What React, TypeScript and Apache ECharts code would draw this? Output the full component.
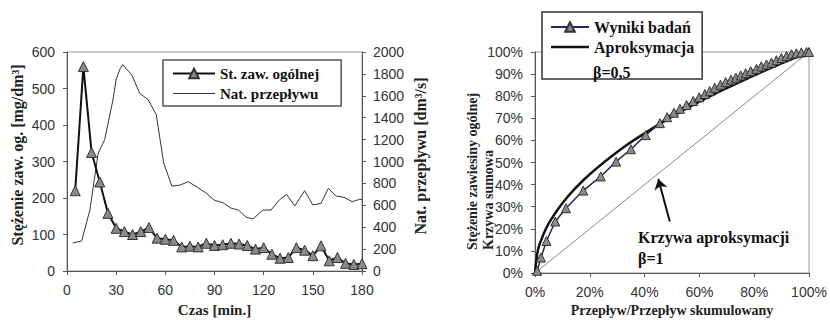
import React, { useEffect, useRef } from "react";
import * as echarts from "echarts";

// ---- Left chart data ----
const sampleTime = [5, 10, 15, 20, 25, 30, 35, 40, 45, 50, 55, 60, 65, 70, 75, 80, 85, 90, 95, 100, 105, 110, 115, 120, 125, 130, 135, 140, 145, 150, 155, 160, 165, 170, 175, 180];
const concentration = [220, 560, 325, 244, 158, 117, 108, 100, 108, 119, 90, 87, 84, 66, 68, 66, 76, 70, 72, 76, 74, 70, 60, 64, 46, 35, 37, 64, 57, 42, 69, 28, 37, 21, 18, 20];

const flowTime = [3.5, 9, 14, 19, 23, 28, 30, 32.5, 34, 39.5, 44.5, 49.5, 54.5, 59, 64, 69, 74, 79, 85, 90, 95, 100, 104.5, 109.5, 113.5, 119.5, 124.5, 129.5, 134, 139, 145, 150, 155, 159.5, 164, 169, 174, 178.5, 180];
const flowRate = [255, 275, 560, 1075, 1200, 1560, 1750, 1850, 1885, 1790, 1620, 1565, 1425, 985, 775, 785, 815, 770, 710, 645, 625, 575, 557, 490, 475, 557, 557, 648, 700, 594, 733, 603, 618, 755, 685, 673, 633, 655, 650];

// ---- Right chart data ----
const measuredFlowPct = [0.8, 2.2, 4.2, 7.4, 11.3, 17.6, 24, 29.6, 35, 40.4, 45.6, 48.2, 50.7, 52.9, 55.3, 57.7, 59.9, 62, 63.8, 65.6, 67.7, 69.6, 71.5, 73.3, 75.1, 76.9, 78.7, 80.8, 82.6, 84.5, 86.3, 88.1, 89.9, 91.8, 93.6, 95.4, 97.2, 99.1, 100];
const measuredMassPct = [1, 7, 14.5, 23.3, 29.3, 37.3, 43.7, 50.4, 56, 62.4, 67.8, 70.5, 72.5, 74.3, 76, 77.8, 79.5, 81, 82.3, 83.8, 85.2, 86.4, 87.5, 88.4, 89.4, 90.4, 91.3, 92.4, 93.5, 94.4, 95.2, 96.3, 97.3, 98.2, 99, 99.4, 99.8, 100, 100];

const approxFlowPct = [0, 1, 2, 4, 6, 10, 15, 20, 30, 40, 50, 60, 70, 80, 90, 100];
const approxMassPct = [0, 10, 14.1, 20, 24.5, 31.6, 38.7, 44.7, 54.8, 63.2, 70.7, 77.5, 83.7, 89.4, 94.9, 100];

const diagonalPct = [0, 100];

const leftXTicks = { min: 0, max: 180, interval: 30 };
const leftYTicks = { min: 0, max: 600, interval: 100 };
const rightYTicks = { min: 0, max: 2000, interval: 200 };

const SERIF = '"Liberation Serif", "DejaVu Serif", serif';
const SANS = '"Liberation Sans", Arial, sans-serif';

export default function App() {
  const ref = useRef<HTMLDivElement>(null);

  useEffect(() => {
    document.body.style.margin = "0";
    if (!ref.current) return;
    const chart = echarts.init(ref.current, undefined, { renderer: "svg" });

    const axisLabel = (margin: number, fmt?: any) => ({
      color: "#333",
      fontFamily: SANS,
      fontSize: 14,
      margin,
      formatter: fmt,
    });
    const axisLine = { show: true, lineStyle: { color: "#555", width: 1 } };
    const axisTick = { show: true, length: 4, lineStyle: { color: "#555" } };

    const triangle = {
      symbol: "triangle",
      symbolSize: 10,
      itemStyle: { color: "#8a8a8a", borderColor: "#333", borderWidth: 1 },
    };

    const thinLineIcon = "path://M0,0 L40,0 L40,1 L0,1 Z";
    const thickLineIcon = "path://M0,0 L40,0 L40,2.5 L0,2.5 Z";

    const option: any = {
      animation: false,
      backgroundColor: "#fff",
      grid: [
        { left: 67, top: 52, width: 295, height: 219, show: true, borderColor: "#999", borderWidth: 1, outerBoundsMode: "none" },
        { left: 535, top: 52, width: 274, height: 221, show: true, borderColor: "#999", borderWidth: 1, outerBoundsMode: "none" },
      ],
      xAxis: [
        {
          gridIndex: 0, type: "value", ...leftXTicks,
          axisLine, axisTick, splitLine: { show: false },
          axisLabel: axisLabel(12),
          name: "Czas [min.]", nameLocation: "middle", nameGap: 31,
          nameTextStyle: { fontFamily: SERIF, fontWeight: "bold", fontSize: 15, color: "#222" },
        },
        {
          gridIndex: 1, type: "value", min: 0, max: 100, interval: 20,
          axisLine, axisTick, splitLine: { show: false },
          axisLabel: axisLabel(12, "{value}%"),
          name: "Przepływ/Przepływ skumulowany", nameLocation: "middle", nameGap: 28,
          nameTextStyle: { fontFamily: SERIF, fontWeight: "bold", fontSize: 14, color: "#222" },
        },
      ],
      yAxis: [
        {
          gridIndex: 0, type: "value", ...leftYTicks,
          axisLine, axisTick, splitLine: { show: false },
          axisLabel: axisLabel(12),
        },
        {
          gridIndex: 0, type: "value", position: "right", ...rightYTicks,
          axisLine, axisTick, splitLine: { show: false },
          axisLabel: axisLabel(11, (v: number) => String(v)),
        },
        {
          gridIndex: 1, type: "value", min: 0, max: 100, interval: 10,
          axisLine, axisTick, splitLine: { show: false },
          axisLabel: axisLabel(12, "{value}%"),
        },
      ],
      legend: [
        {
          left: 163, top: 60, orient: "vertical",
          data: [
            { name: "St. zaw. ogólnej" },
            { name: "Nat. przepływu", icon: thinLineIcon },
          ],
          borderColor: "#555", borderWidth: 1.5, backgroundColor: "#fff",
          padding: [6, 22, 5, 9], itemWidth: 42, itemHeight: 12, itemGap: 5,
          textStyle: { fontFamily: SERIF, fontWeight: "bold", fontSize: 15, color: "#111" },
        },
        {
          left: 542, top: 12, orient: "vertical",
          data: [
            { name: "Wyniki badań" },
            { name: "Aproksymacja", icon: thickLineIcon },
          ],
          borderColor: "#333", borderWidth: 1.5, backgroundColor: "#fff",
          padding: [7, 8, 24, 8], itemWidth: 38, itemHeight: 12, itemGap: 4,
          textStyle: { fontFamily: SERIF, fontWeight: "bold", fontSize: 16, color: "#111" },
        },
      ],
      series: [
        {
          name: "St. zaw. ogólnej", type: "line", xAxisIndex: 0, yAxisIndex: 0,
          data: sampleTime.map((t, i) => [t, concentration[i]]),
          lineStyle: { color: "#111", width: 2 }, ...triangle, z: 3,
        },
        {
          name: "Nat. przepływu", type: "line", xAxisIndex: 0, yAxisIndex: 1,
          data: flowTime.map((t, i) => [t, flowRate[i]]),
          symbol: "none", lineStyle: { color: "#333", width: 1 },
          itemStyle: { color: "#333" }, z: 2,
        },
        {
          name: "β=1", type: "line", xAxisIndex: 1, yAxisIndex: 2,
          data: diagonalPct.map((v) => [v, v]),
          symbol: "none", lineStyle: { color: "#888", width: 1 },
          markLine: {
            silent: true, symbol: ["none", "arrow"], symbolSize: 10,
            lineStyle: { color: "#111", width: 2, type: "solid" },
            label: { show: false },
            data: [[{ coord: [49.2, 23.3] }, { coord: [45, 42.5] }]],
          },
        },
        {
          name: "Aproksymacja", type: "line", xAxisIndex: 1, yAxisIndex: 2,
          data: approxFlowPct.map((v, i) => [v, approxMassPct[i]]),
          symbol: "none", smooth: true, lineStyle: { color: "#111", width: 2.5 },
          itemStyle: { color: "#111" }, z: 2,
        },
        {
          name: "Wyniki badań", type: "line", xAxisIndex: 1, yAxisIndex: 2,
          data: measuredFlowPct.map((v, i) => [v, measuredMassPct[i]]),
          lineStyle: { color: "#23236b", width: 1.5 }, ...triangle, symbolSize: 9, z: 3,
        },
      ],
      graphic: [
        {
          type: "text", x: 17, y: 155, rotation: Math.PI / 2,
          style: { text: "Stężenie zaw. og. [mg/dm³]", font: `bold 16px ${SERIF}`, align: "center", verticalAlign: "middle", fill: "#222" },
        },
        {
          type: "text", x: 420, y: 156, rotation: Math.PI / 2,
          style: { text: "Nat. przepływu [dm³/s]", font: `bold 16px ${SERIF}`, align: "center", verticalAlign: "middle", fill: "#222" },
        },
        {
          type: "text", x: 472, y: 250, rotation: Math.PI / 2,
          style: { text: "Stężenie zawiesiny ogólnej", font: `bold 14px ${SERIF}`, align: "left", verticalAlign: "middle", fill: "#222" },
        },
        {
          type: "text", x: 488, y: 250, rotation: Math.PI / 2,
          style: { text: "Krzywa sumowa", font: `bold 14px ${SERIF}`, align: "left", verticalAlign: "middle", fill: "#222" },
        },
        {
          type: "text", x: 593, y: 72,
          style: { text: "β=0,5", font: `bold 16px ${SERIF}`, align: "left", verticalAlign: "middle", fill: "#111" },
          z: 100,
        },
        {
          type: "text", x: 638, y: 237,
          style: { text: "Krzywa aproksymacji", font: `bold 16px ${SERIF}`, align: "left", verticalAlign: "middle", fill: "#111" },
        },
        {
          type: "text", x: 638, y: 258,
          style: { text: "β=1", font: `bold 16px ${SERIF}`, align: "left", verticalAlign: "middle", fill: "#111" },
        },
      ],
    };

    chart.setOption(option);
    return () => chart.dispose();
  }, []);

  return <div ref={ref} style={{ width: 830, height: 320 }} />;
}
